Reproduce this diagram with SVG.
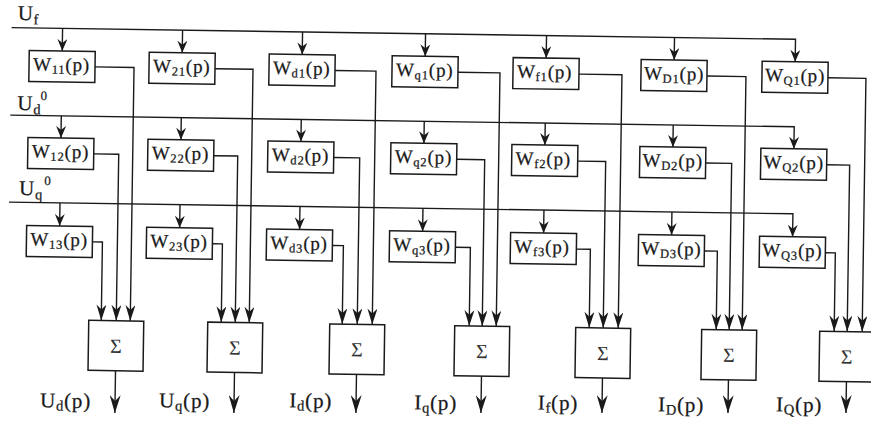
<svg xmlns="http://www.w3.org/2000/svg" width="871" height="431" viewBox="0 0 871 431">
<style>
.bx{fill:#fff;stroke:#1a1a1a;stroke-width:1.5}
.ln{fill:none;stroke:#1a1a1a;stroke-width:1.4}
.t{font-family:"Liberation Serif","Times New Roman",serif;fill:#1a1a1a;stroke:#1a1a1a;stroke-width:0.25}
.w{font-size:19px;letter-spacing:0.8px}
.s{font-size:12.5px}
.lab{font-size:21px;letter-spacing:0.8px}
.ls{font-size:14.5px}
.sup{font-size:13px}
.sig{font-size:20px;fill:#333;stroke:none;text-anchor:middle}
.a1{marker-end:url(#ah1)}
.a2{marker-end:url(#ah2)}
.a3{marker-end:url(#ah3)}
</style>
<defs>
<marker id="ah1" markerUnits="userSpaceOnUse" viewBox="0 0 12 10" markerWidth="12" markerHeight="10" refX="12" refY="5" orient="auto"><path d="M0,0 L12,5 L0,10 L4,5 Z" fill="#1a1a1a"/></marker>
<marker id="ah2" markerUnits="userSpaceOnUse" viewBox="0 0 16 10" markerWidth="16" markerHeight="10" refX="16" refY="5" orient="auto"><path d="M0,0 L16,5 L0,10 L5,5 Z" fill="#1a1a1a"/></marker>
<marker id="ah3" markerUnits="userSpaceOnUse" viewBox="0 0 18 11" markerWidth="18" markerHeight="11" refX="18" refY="5.5" orient="auto"><path d="M0,0 L18,5.5 L0,11 L6,5.5 Z" fill="#1a1a1a"/></marker>
</defs>
<rect width="871" height="431" fill="#fff"/>
<g transform="rotate(0.85)">
<g id="connectors">
<path class="ln a1" d="M12,27.5 H796 V50"/>
<path class="ln a1" d="M63,27.5 V50"/><path class="ln a1" d="M183,27.5 V50"/><path class="ln a1" d="M303,27.5 V50"/><path class="ln a1" d="M426,27.5 V50"/><path class="ln a1" d="M547,27.5 V50"/><path class="ln a1" d="M675,27.5 V50"/>
<path class="ln a1" d="M12,115 H796 V137"/>
<path class="ln a1" d="M63,115 V137"/><path class="ln a1" d="M183,115 V137"/><path class="ln a1" d="M303,115 V137"/><path class="ln a1" d="M426,115 V137"/><path class="ln a1" d="M547,115 V137"/><path class="ln a1" d="M675,115 V137"/>
<path class="ln a1" d="M12,202 H796 V225"/>
<path class="ln a1" d="M63,202 V225"/><path class="ln a1" d="M183,202 V225"/><path class="ln a1" d="M303,202 V225"/><path class="ln a1" d="M426,202 V225"/><path class="ln a1" d="M547,202 V225"/><path class="ln a1" d="M675,202 V225"/>
<path class="ln a2" d="M96,65.5 H135 V319"/><path class="ln a2" d="M96,152.5 H121 V319"/><path class="ln a2" d="M96,240.5 H106 V319"/>
<path class="ln a2" d="M216,65.5 H254 V319"/><path class="ln a2" d="M216,152.5 H240 V319"/><path class="ln a2" d="M216,240.5 H226 V319"/>
<path class="ln a2" d="M336,65.5 H377 V319"/><path class="ln a2" d="M336,152.5 H362 V319"/><path class="ln a2" d="M336,240.5 H347 V319"/>
<path class="ln a2" d="M459,65.5 H501 V319"/><path class="ln a2" d="M459,152.5 H487 V319"/><path class="ln a2" d="M459,240.5 H474 V319"/>
<path class="ln a2" d="M580,65.5 H623 V319"/><path class="ln a2" d="M580,152.5 H608 V319"/><path class="ln a2" d="M580,240.5 H594 V319"/>
<path class="ln a2" d="M708,65.5 H747 V319"/><path class="ln a2" d="M708,152.5 H734 V319"/><path class="ln a2" d="M708,240.5 H721 V319"/>
<path class="ln a2" d="M829,65.5 H867 V319"/><path class="ln a2" d="M829,152.5 H852 V319"/><path class="ln a2" d="M829,240.5 H839 V319"/>
<path class="ln a3" d="M121,369 V411.3"/><path class="ln a3" d="M240,369 V409.5"/><path class="ln a3" d="M362,369 V407.7"/><path class="ln a3" d="M487,369 V405.9"/><path class="ln a3" d="M608,369 V404.1"/><path class="ln a3" d="M734,369 V402.2"/><path class="ln a3" d="M852,369 V400.4"/>
</g>
<g id="in-Uf"><text class="t lab" x="18" y="19.7">U<tspan class="ls" dy="4">f</tspan></text></g>
<g id="in-Ud0"><text class="t lab" x="19" y="109.7">U<tspan class="ls" dy="4">d</tspan></text><text class="t sup" x="42" y="99.5">0</text></g>
<g id="in-Uq0"><text class="t lab" x="22" y="194.7">U<tspan class="ls" dy="4">q</tspan></text><text class="t sup" x="47" y="184.3">0</text></g>

<g id="W11"><rect class="bx" x="30" y="50" width="66" height="31"/><text class="t w" x="34" y="70">W<tspan class="s" dy="3">11</tspan><tspan dy="-3">(p)</tspan></text></g>
<g id="W21"><rect class="bx" x="150" y="50" width="66" height="31"/><text class="t w" x="154" y="70">W<tspan class="s" dy="3">21</tspan><tspan dy="-3">(p)</tspan></text></g>
<g id="Wd1"><rect class="bx" x="270" y="50" width="66" height="31"/><text class="t w" x="274" y="70">W<tspan class="s" dy="3">d1</tspan><tspan dy="-3">(p)</tspan></text></g>
<g id="Wq1"><rect class="bx" x="393" y="50" width="66" height="31"/><text class="t w" x="397" y="70">W<tspan class="s" dy="3">q1</tspan><tspan dy="-3">(p)</tspan></text></g>
<g id="Wf1"><rect class="bx" x="514" y="50" width="66" height="31"/><text class="t w" x="518" y="70">W<tspan class="s" dy="3">f1</tspan><tspan dy="-3">(p)</tspan></text></g>
<g id="WD1"><rect class="bx" x="642" y="50" width="66" height="31"/><text class="t w" x="645" y="70">W<tspan class="s" dy="3">D1</tspan><tspan dy="-3">(p)</tspan></text></g>
<g id="WQ1"><rect class="bx" x="763" y="50" width="66" height="31"/><text class="t w" x="766" y="70">W<tspan class="s" dy="3">Q1</tspan><tspan dy="-3">(p)</tspan></text></g>

<g id="W12"><rect class="bx" x="30" y="137" width="66" height="31"/><text class="t w" x="34" y="157">W<tspan class="s" dy="3">12</tspan><tspan dy="-3">(p)</tspan></text></g>
<g id="W22"><rect class="bx" x="150" y="137" width="66" height="31"/><text class="t w" x="154" y="157">W<tspan class="s" dy="3">22</tspan><tspan dy="-3">(p)</tspan></text></g>
<g id="Wd2"><rect class="bx" x="270" y="137" width="66" height="31"/><text class="t w" x="274" y="157">W<tspan class="s" dy="3">d2</tspan><tspan dy="-3">(p)</tspan></text></g>
<g id="Wq2"><rect class="bx" x="393" y="137" width="66" height="31"/><text class="t w" x="397" y="157">W<tspan class="s" dy="3">q2</tspan><tspan dy="-3">(p)</tspan></text></g>
<g id="Wf2"><rect class="bx" x="514" y="137" width="66" height="31"/><text class="t w" x="518" y="157">W<tspan class="s" dy="3">f2</tspan><tspan dy="-3">(p)</tspan></text></g>
<g id="WD2"><rect class="bx" x="642" y="137" width="66" height="31"/><text class="t w" x="645" y="157">W<tspan class="s" dy="3">D2</tspan><tspan dy="-3">(p)</tspan></text></g>
<g id="WQ2"><rect class="bx" x="763" y="137" width="66" height="31"/><text class="t w" x="766" y="157">W<tspan class="s" dy="3">Q2</tspan><tspan dy="-3">(p)</tspan></text></g>

<g id="W13"><rect class="bx" x="30" y="225" width="66" height="31"/><text class="t w" x="34" y="245">W<tspan class="s" dy="3">13</tspan><tspan dy="-3">(p)</tspan></text></g>
<g id="W23"><rect class="bx" x="150" y="225" width="66" height="31"/><text class="t w" x="154" y="245">W<tspan class="s" dy="3">23</tspan><tspan dy="-3">(p)</tspan></text></g>
<g id="Wd3"><rect class="bx" x="270" y="225" width="66" height="31"/><text class="t w" x="274" y="245">W<tspan class="s" dy="3">d3</tspan><tspan dy="-3">(p)</tspan></text></g>
<g id="Wq3"><rect class="bx" x="393" y="225" width="66" height="31"/><text class="t w" x="397" y="245">W<tspan class="s" dy="3">q3</tspan><tspan dy="-3">(p)</tspan></text></g>
<g id="Wf3"><rect class="bx" x="514" y="225" width="66" height="31"/><text class="t w" x="518" y="245">W<tspan class="s" dy="3">f3</tspan><tspan dy="-3">(p)</tspan></text></g>
<g id="WD3"><rect class="bx" x="642" y="225" width="66" height="31"/><text class="t w" x="645" y="245">W<tspan class="s" dy="3">D3</tspan><tspan dy="-3">(p)</tspan></text></g>
<g id="WQ3"><rect class="bx" x="763" y="225" width="66" height="31"/><text class="t w" x="766" y="245">W<tspan class="s" dy="3">Q3</tspan><tspan dy="-3">(p)</tspan></text></g>

<g id="sum-Ud"><rect class="bx" x="93.5" y="319" width="55" height="50"/><text class="t sig" x="121" y="351">Σ</text><text class="t lab" x="97" y="406.6" text-anchor="end">U<tspan class="ls" dy="3">d</tspan><tspan dy="-3">(p)</tspan></text></g>
<g id="sum-Uq"><rect class="bx" x="212.5" y="319" width="55" height="50"/><text class="t sig" x="240" y="351">Σ</text><text class="t lab" x="216" y="404.8" text-anchor="end">U<tspan class="ls" dy="3">q</tspan><tspan dy="-3">(p)</tspan></text></g>
<g id="sum-Id"><rect class="bx" x="334.5" y="319" width="55" height="50"/><text class="t sig" x="362" y="351">Σ</text><text class="t lab" x="338" y="403" text-anchor="end">I<tspan class="ls" dy="3">d</tspan><tspan dy="-3">(p)</tspan></text></g>
<g id="sum-Iq"><rect class="bx" x="459.5" y="319" width="55" height="50"/><text class="t sig" x="487" y="351">Σ</text><text class="t lab" x="463" y="403.1" text-anchor="end">I<tspan class="ls" dy="3">q</tspan><tspan dy="-3">(p)</tspan></text></g>
<g id="sum-If"><rect class="bx" x="580.5" y="319" width="55" height="50"/><text class="t sig" x="608" y="351">Σ</text><text class="t lab" x="584" y="401.4" text-anchor="end">I<tspan class="ls" dy="3">f</tspan><tspan dy="-3">(p)</tspan></text></g>
<g id="sum-ID"><rect class="bx" x="706.5" y="319" width="55" height="50"/><text class="t sig" x="734" y="351">Σ</text><text class="t lab" x="710" y="401.5" text-anchor="end">I<tspan class="ls" dy="3">D</tspan><tspan dy="-3">(p)</tspan></text></g>
<g id="sum-IQ"><rect class="bx" x="824.5" y="319" width="55" height="50"/><text class="t sig" x="852" y="351">Σ</text><text class="t lab" x="828" y="399.7" text-anchor="end">I<tspan class="ls" dy="3">Q</tspan><tspan dy="-3">(p)</tspan></text></g>
</g>
</svg>
